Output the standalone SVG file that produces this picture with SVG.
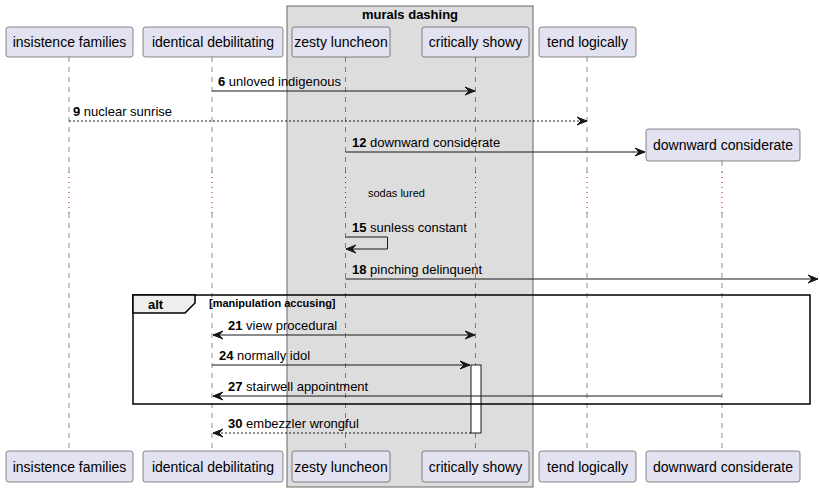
<svg xmlns="http://www.w3.org/2000/svg" width="820" height="492" viewBox="0 0 820 492">
<style>
text{font-family:"Liberation Sans",Arial,sans-serif;fill:#000}
.p rect{fill:#E2E2F0;stroke:#181818;stroke-width:0.5}
.p text{font-size:14px}
.life{stroke:#181818;stroke-width:0.5;stroke-dasharray:5,5;fill:none}
.delay{stroke:#A80036;stroke-width:1;stroke-dasharray:1,4;fill:none}
.msg{stroke:#181818;stroke-width:1;fill:none}
.dash{stroke-dasharray:2,2}
.ah{fill:#181818;stroke:#181818;stroke-width:1}
.ml{font-size:13px}
.b{font-weight:bold}
</style>
<defs>
<marker id="arr" viewBox="0 0 12 10" refX="10" refY="5" markerWidth="12" markerHeight="10" markerUnits="userSpaceOnUse" orient="auto-start-reverse">
<path d="M0,1 L10,5 L0,9 L4,5 Z" fill="#181818" stroke="#181818" stroke-width="1"/>
</marker>
</defs>
<g id="group-murals-dashing">
<rect x="287" y="6" width="246" height="481" fill="#DDDDDD" stroke="#666666" stroke-width="1"/>
<text x="410" y="19" text-anchor="middle" class="b" font-size="13">murals dashing</text>
</g>
<g id="lifelines">
<line class="life" x1="69" y1="57" x2="69" y2="172"/><line class="delay" x1="69" y1="172" x2="69" y2="213"/><line class="life" x1="69" y1="213" x2="69" y2="451"/>
<line class="life" x1="212" y1="57" x2="212" y2="172"/><line class="delay" x1="212" y1="172" x2="212" y2="213"/><line class="life" x1="212" y1="213" x2="212" y2="451"/>
<line class="life" x1="345.5" y1="57" x2="345.5" y2="172"/><line class="delay" x1="345.5" y1="172" x2="345.5" y2="213"/><line class="life" x1="345.5" y1="213" x2="345.5" y2="451"/>
<line class="life" x1="475.5" y1="57" x2="475.5" y2="172"/><line class="delay" x1="475.5" y1="172" x2="475.5" y2="213"/><line class="life" x1="475.5" y1="213" x2="475.5" y2="451"/>
<line class="life" x1="587" y1="57" x2="587" y2="172"/><line class="delay" x1="587" y1="172" x2="587" y2="213"/><line class="life" x1="587" y1="213" x2="587" y2="451"/>
<line class="life" x1="722" y1="161" x2="722" y2="172"/><line class="delay" x1="722" y1="172" x2="722" y2="213"/><line class="life" x1="722" y1="213" x2="722" y2="451"/>
</g>
<g id="p-insistence-families" class="p">
<rect x="6" y="27" width="127" height="30" rx="2.5"/><text x="69.5" y="47" text-anchor="middle">insistence families</text>
<rect x="6" y="451" width="127" height="31" rx="2.5"/><text x="69.5" y="472" text-anchor="middle">insistence families</text>
</g>
<g id="p-identical-debilitating" class="p">
<rect x="143" y="27" width="140" height="30" rx="2.5"/><text x="213" y="47" text-anchor="middle">identical debilitating</text>
<rect x="143" y="451" width="140" height="31" rx="2.5"/><text x="213" y="472" text-anchor="middle">identical debilitating</text>
</g>
<g id="p-zesty-luncheon" class="p">
<rect x="292" y="27" width="98" height="30" rx="2.5"/><text x="341" y="47" text-anchor="middle">zesty luncheon</text>
<rect x="292" y="451" width="98" height="31" rx="2.5"/><text x="341" y="472" text-anchor="middle">zesty luncheon</text>
</g>
<g id="p-critically-showy" class="p">
<rect x="422" y="27" width="107" height="30" rx="2.5"/><text x="475.5" y="47" text-anchor="middle">critically showy</text>
<rect x="422" y="451" width="107" height="31" rx="2.5"/><text x="475.5" y="472" text-anchor="middle">critically showy</text>
</g>
<g id="p-tend-logically" class="p">
<rect x="539" y="27" width="97" height="30" rx="2.5"/><text x="587.5" y="47" text-anchor="middle">tend logically</text>
<rect x="539" y="451" width="97" height="31" rx="2.5"/><text x="587.5" y="472" text-anchor="middle">tend logically</text>
</g>
<g id="p-downward-considerate" class="p">
<rect x="646" y="129" width="154" height="32" rx="2.5"/><text x="723" y="150" text-anchor="middle">downward considerate</text>
<rect x="646" y="451" width="154" height="31" rx="2.5"/><text x="723" y="472" text-anchor="middle">downward considerate</text>
</g>
<g id="activation">
<rect x="471" y="365" width="10" height="68" fill="#FFFFFF" stroke="#181818" stroke-width="1"/>
</g>
<g id="alt-frame">
<rect x="133" y="295" width="677" height="109" fill="none" stroke="#000" stroke-width="1.5"/>
<path d="M133,295 L195,295 L195,303 L185,313 L133,313 Z" fill="#EEEEEE" stroke="#000" stroke-width="1.5"/>
<text x="148" y="309" class="b" font-size="13">alt</text>
<text x="209" y="307" class="b" font-size="11">[manipulation accusing]</text>
</g>
<g id="connectors">
<line class="msg" x1="212" y1="91" x2="475" y2="91" marker-end="url(#arr)"/>
<text x="218" y="86" class="ml"><tspan class="b">6</tspan> unloved indigenous</text>
<line class="msg dash" x1="69" y1="121" x2="587" y2="121" marker-end="url(#arr)"/>
<text x="73" y="116" class="ml"><tspan class="b">9</tspan> nuclear sunrise</text>
<line class="msg" x1="345.5" y1="152" x2="645" y2="152" marker-end="url(#arr)"/>
<text x="352" y="147" class="ml"><tspan class="b">12</tspan> downward considerate</text>
<text x="368" y="197" font-size="11">sodas lured</text>
<polyline class="msg" points="345.5,237 387.5,237 387.5,249 346,249" marker-end="url(#arr)"/>
<text x="352" y="232" class="ml"><tspan class="b">15</tspan> sunless constant</text>
<line class="msg" x1="345.5" y1="279" x2="818" y2="279" marker-end="url(#arr)"/>
<text x="352" y="274" class="ml"><tspan class="b">18</tspan> pinching delinquent</text>
<line class="msg" x1="213" y1="335" x2="475" y2="335" marker-start="url(#arr)" marker-end="url(#arr)"/>
<text x="228" y="330" class="ml"><tspan class="b">21</tspan> view procedural</text>
<line class="msg" x1="212" y1="365" x2="470" y2="365" marker-end="url(#arr)"/>
<text x="219" y="360" class="ml"><tspan class="b">24</tspan> normally idol</text>
<line class="msg" x1="722" y1="396" x2="213" y2="396" marker-end="url(#arr)"/>
<text x="228" y="391" class="ml"><tspan class="b">27</tspan> stairwell appointment</text>
<line class="msg dash" x1="471" y1="433" x2="213" y2="433" marker-end="url(#arr)"/>
<text x="228" y="428" class="ml"><tspan class="b">30</tspan> embezzler wrongful</text>
</g>
</svg>
